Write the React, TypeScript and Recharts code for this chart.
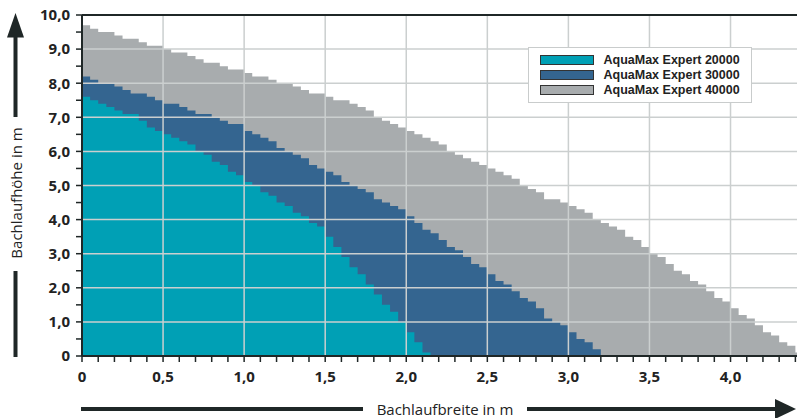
import React from "react";
import { AreaChart, Area, XAxis, YAxis, ReferenceLine, Legend } from "recharts";

// Pumpen: AquaMax Expert 20000 / 30000 / 40000
const seriesNames = ["AquaMax Expert 20000", "AquaMax Expert 30000", "AquaMax Expert 40000"];
const seriesColors = ["#00a0b5", "#346590", "#a8acae"];

// Bachlaufhöhe (m) je 0,05 m Bachlaufbreite, ab 0
const expert20000 = [
  7.6, 7.5, 7.4, 7.3, 7.2, 7.1, 7.1, 6.9, 6.7, 6.6, 6.5, 6.4, 6.3, 6.2, 6.0, 5.9, 5.7, 5.6, 5.4, 5.3,
  5.1, 5.0, 4.8, 4.7, 4.5, 4.4, 4.2, 4.1, 3.9, 3.8, 3.5, 3.2, 2.9, 2.6, 2.4, 2.1, 1.8, 1.5, 1.3, 1.0,
  0.7, 0.4, 0.1,
];
const expert30000 = [
  8.2, 8.1, 8.0, 8.0, 7.9, 7.8, 7.7, 7.7, 7.6, 7.5, 7.4, 7.4, 7.3, 7.2, 7.1, 7.1, 7.0, 6.9, 6.8, 6.8,
  6.6, 6.5, 6.4, 6.3, 6.1, 6.0, 5.9, 5.8, 5.6, 5.5, 5.4, 5.3, 5.1, 5.0, 4.9, 4.8, 4.6, 4.5, 4.4, 4.3,
  4.1, 3.9, 3.7, 3.6, 3.4, 3.2, 3.1, 2.9, 2.7, 2.6, 2.4, 2.2, 2.1, 1.9, 1.7, 1.6, 1.4, 1.1, 1.0, 0.9,
  0.7, 0.5, 0.4, 0.2,
];
const expert40000 = [
  9.7, 9.6, 9.5, 9.5, 9.4, 9.3, 9.3, 9.2, 9.1, 9.1, 9.0, 8.9, 8.9, 8.8, 8.7, 8.6, 8.6, 8.5, 8.4, 8.4,
  8.3, 8.2, 8.2, 8.1, 8.0, 8.0, 7.9, 7.8, 7.7, 7.7, 7.6, 7.5, 7.5, 7.4, 7.3, 7.2, 7.0, 6.9, 6.8, 6.7,
  6.6, 6.5, 6.4, 6.3, 6.2, 6.0, 5.9, 5.8, 5.7, 5.6, 5.5, 5.4, 5.3, 5.2, 5.0, 4.9, 4.8, 4.6, 4.6, 4.5,
  4.4, 4.3, 4.2, 4.0, 3.9, 3.8, 3.7, 3.5, 3.4, 3.2, 3.0, 2.9, 2.7, 2.5, 2.4, 2.2, 2.1, 1.9, 1.7, 1.6,
  1.4, 1.2, 1.1, 0.9, 0.7, 0.6, 0.4, 0.3, 0.1,
];

const stepWidth = 0.05;

const xTicks = [
  0, 0.1, 0.2, 0.3, 0.4, 0.5, 0.6, 0.7, 0.8, 0.9, 1.0, 1.1, 1.2, 1.3, 1.4, 1.5, 1.6, 1.7, 1.8, 1.9,
  2.0, 2.1, 2.2, 2.3, 2.4, 2.5, 2.6, 2.7, 2.8, 2.9, 3.0, 3.1, 3.2, 3.3, 3.4, 3.5, 3.6, 3.7, 3.8, 3.9,
  4.0, 4.1, 4.2, 4.3, 4.4,
];
const yTicks = [0, 0.5, 1, 1.5, 2, 2.5, 3, 3.5, 4, 4.5, 5, 5.5, 6, 6.5, 7, 7.5, 8, 8.5, 9, 9.5, 10];
const gridX = [0.5, 1.0, 1.5, 2.0, 2.5, 3.0, 3.5, 4.0];
const gridY = [1, 2, 3, 4, 5, 6, 7, 8, 9];

// stepAfter: each value holds until the next x; close each series with a 0 (or repeat the last value at the edge)
const closeSeries = (arr: number[], i: number, last: boolean) => {
  if (i < arr.length) return arr[i];
  if (i === arr.length) return last ? arr[arr.length - 1] : 0;
  return null;
};

const data = Array.from({ length: expert40000.length + 1 }, (_, i) => ({
  x: Math.round(i * stepWidth * 100) / 100,
  e20: closeSeries(expert20000, i, false),
  e30: closeSeries(expert30000, i, false),
  e40: closeSeries(expert40000, i, true),
}));

const fmt = (v: number) => (v === 0 ? "0" : v.toFixed(1).replace(".", ","));
const fmtX = (v: number) => (Math.round(v * 10) % 5 === 0 ? fmt(v) : "");
const fmtY = (v: number) => (Math.round(v * 2) % 2 === 0 ? fmt(v) : "");

const dark = "#1f2727";
const gridColor = "#cbcfcf";

function LegendBox() {
  return (
    <div
      style={{
        width: 224,
        height: 56,
        boxSizing: "border-box",
        border: "1.5px solid #c9cccc",
        background: "#fff",
        padding: "4.5px 0 0 10.5px",
      }}
    >
      {seriesNames.map((name, i) => (
        <div key={name} style={{ display: "flex", alignItems: "center", height: 15 }}>
          <div
            style={{
              width: 54,
              height: 10,
              boxSizing: "border-box",
              border: "1px solid #333",
              background: seriesColors[i],
            }}
          />
          <span
            style={{
              display: "block",
              marginLeft: 10,
              fontFamily: "'Liberation Sans', Arial, sans-serif",
              fontSize: 12.5,
              fontWeight: 700,
              color: "#222",
              lineHeight: "15px",
              whiteSpace: "nowrap",
            }}
          >
            {name}
          </span>
        </div>
      ))}
    </div>
  );
}

export default function App() {
  return (
    <div
      style={{
        position: "absolute",
        left: 0,
        top: 0,
        width: 798,
        height: 418,
        background: "#fff",
        fontFamily: "'Open Sans', sans-serif",
      }}
    >
      <AreaChart width={798} height={418} data={data} margin={{ top: 15, right: 1, bottom: 32, left: 0 }}>
        <XAxis
          type="number"
          dataKey="x"
          domain={[0, 4.41]}
          allowDataOverflow
          ticks={xTicks}
          interval={0}
          tickFormatter={fmtX}
          tickSize={6}
          tickMargin={9}
          height={30}
          axisLine={{ stroke: dark, strokeWidth: 2 }}
          tickLine={{ stroke: dark, strokeWidth: 1.5 }}
          tick={{ fill: "#222", fontSize: 15, fontWeight: 700 }}
        />
        <YAxis
          type="number"
          domain={[0, 10]}
          ticks={yTicks}
          interval={0}
          tickFormatter={fmtY}
          width={82}
          tickSize={6}
          tickMargin={6}
          axisLine={{ stroke: dark, strokeWidth: 2 }}
          tickLine={{ stroke: dark, strokeWidth: 1.5 }}
          tick={{ fill: "#222", fontSize: 15, fontWeight: 700 }}
        />
        <Area type="stepAfter" dataKey="e40" name={seriesNames[2]} fill={seriesColors[2]} fillOpacity={1} stroke="none" isAnimationActive={false} />
        <Area type="stepAfter" dataKey="e30" name={seriesNames[1]} fill={seriesColors[1]} fillOpacity={1} stroke="none" isAnimationActive={false} />
        <Area type="stepAfter" dataKey="e20" name={seriesNames[0]} fill={seriesColors[0]} fillOpacity={1} stroke="none" isAnimationActive={false} />
        {gridX.map((v) => (
          <ReferenceLine key={"gx" + v} x={v} stroke={gridColor} strokeWidth={1.5} />
        ))}
        {gridY.map((v) => (
          <ReferenceLine key={"gy" + v} y={v} stroke={gridColor} strokeWidth={1.5} />
        ))}
        <ReferenceLine y={10} stroke={dark} strokeWidth={2} />
        <Legend
          layout="vertical"
          align="center"
          verticalAlign="middle"
          content={() => <LegendBox />}
          wrapperStyle={{ position: "absolute", left: 528, top: 47, width: 224, height: 56 }}
        />
      </AreaChart>
      <svg
        width={798}
        height={418}
        style={{ position: "absolute", left: 0, top: 0, pointerEvents: "none" }}
      >
        {/* Höhe-Pfeil */}
        <polygon points="15.5,13 7,37.5 24,37.5" fill={dark} />
        <rect x={13.5} y={37} width={4} height={80} fill={dark} />
        <rect x={13.5} y={271} width={4} height={86} fill={dark} />
        <text
          x={15.5}
          y={193}
          transform="rotate(-90 15.5 193)"
          textAnchor="middle"
          dominantBaseline="central"
          fontSize={15}
          fill="#222"
        >
          Bachlaufhöhe in m
        </text>
        {/* Breite-Pfeil */}
        <rect x={81} y={407} width={282} height={4} fill={dark} />
        <rect x={527} y={407} width={250} height={4} fill={dark} />
        <polygon points="775,399 775,419 796,409" fill={dark} />
        <text x={445} y={409} textAnchor="middle" dominantBaseline="central" fontSize={15} fill="#222">
          Bachlaufbreite in m
        </text>
      </svg>
    </div>
  );
}
